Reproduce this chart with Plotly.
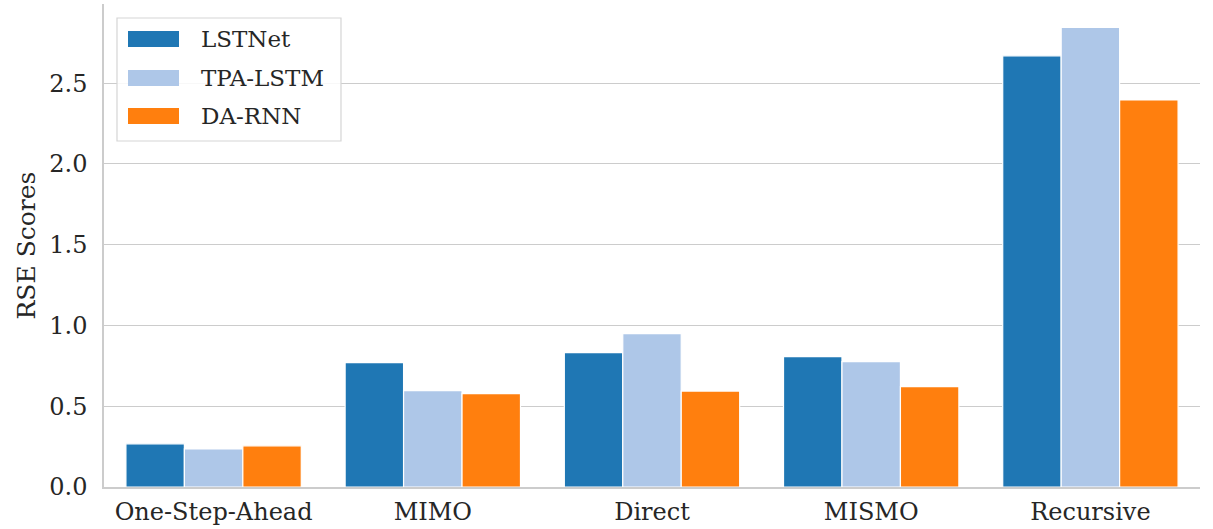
import plotly.graph_objects as go

# Data
categories = ["One-Step-Ahead", "MIMO", "Direct", "MISMO", "Recursive"]
series_names = ["LSTNet", "TPA-LSTM", "DA-RNN"]
lstnet = [0.267, 0.770, 0.832, 0.807, 2.669]
tpa_lstm = [0.236, 0.596, 0.950, 0.776, 2.845]
da_rnn = [0.255, 0.578, 0.594, 0.621, 2.396]
y_ticks = [0.0, 0.5, 1.0, 1.5, 2.0, 2.5]
colors = ["#1f77b4", "#aec7e8", "#ff7f0e"]

FONT = "DejaVu Serif"
W, H = 1213, 529
ML, MR, MT, MB = 104, 13, 4, 42
PW, PH = W - ML - MR, H - MT - MB


def px_x(px):
    return (px - ML) / PW


def px_y(py):
    return (H - MB - py) / PH


fig = go.Figure()
for name, vals, col in zip(series_names, [lstnet, tpa_lstm, da_rnn], colors):
    fig.add_trace(go.Bar(
        x=categories,
        y=vals,
        name=name,
        marker=dict(color=col, line=dict(color="white", width=1.2)),
        showlegend=False,
    ))

# Hand-drawn legend box (matplotlib style, long patches)
shapes = [dict(
    type="rect", xref="paper", yref="paper",
    x0=px_x(117), x1=px_x(341), y0=px_y(141), y1=px_y(18),
    line=dict(color="#d5d5d5", width=1.2),
    fillcolor="rgba(255,255,255,0.85)", layer="above",
)]
annotations = []
row_y = [39, 78, 116]
for name, col, yc in zip(series_names, colors, row_y):
    shapes.append(dict(
        type="rect", xref="paper", yref="paper",
        x0=px_x(128), x1=px_x(179), y0=px_y(yc + 8), y1=px_y(yc - 8),
        line=dict(width=0), fillcolor=col, layer="above",
    ))
    annotations.append(dict(
        x=px_x(199), y=px_y(yc), xref="paper", yref="paper",
        text=name, showarrow=False, xanchor="left", yanchor="middle",
        font=dict(family=FONT, size=23, color="#262626"),
    ))

fig.update_layout(
    width=W, height=H,
    template="plotly_white",
    plot_bgcolor="white", paper_bgcolor="white",
    margin=dict(l=ML, r=MR, t=MT, b=MB, autoexpand=False),
    barmode="group", bargap=0.2, bargroupgap=0,
    font=dict(family=FONT, color="#262626"),
    shapes=shapes,
    annotations=annotations,
)
fig.update_xaxes(
    range=[-0.5, 4.5], showgrid=False, showline=True,
    linecolor="#cccccc", linewidth=1.5, ticks="", automargin=False,
    ticklabelstandoff=2,
    tickfont=dict(family=FONT, size=24, color="#262626"),
)
fig.update_yaxes(
    range=[0, 2.99], tickvals=y_ticks, ticktext=[f"{v:.1f}" for v in y_ticks],
    showgrid=True, gridcolor="#cccccc", gridwidth=1.2,
    showline=True, linecolor="#cccccc", linewidth=1.5,
    zeroline=False, ticks="", automargin=False,
    ticklabelstandoff=10,
    tickfont=dict(family=FONT, size=24, color="#262626"),
    title=dict(text="RSE Scores", font=dict(family=FONT, size=25, color="#262626"), standoff=7),
)

fig.write_html(
    "out.html",
    config={"displayModeBar": False},
    post_script="document.body.style.margin='0';",
)
